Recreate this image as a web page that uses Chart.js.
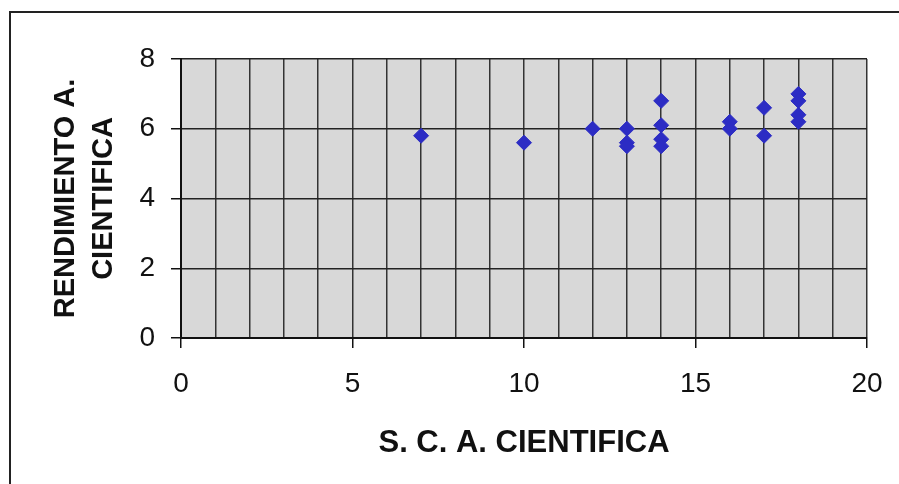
<!DOCTYPE html>
<html>
<head>
<meta charset="utf-8">
<script src="https://cdn.jsdelivr.net/npm/chart.js@4/dist/chart.umd.min.js"></script>
<style>
  body { margin: 0; background: #fff; }
  #wrap { position: relative; width: 899px; height: 484px; overflow: hidden; }
  #frame { position: absolute; left: 9px; top: 11px; width: 960px; height: 520px; border: 2px solid #222; }
  canvas { position: absolute; left: 0; top: 0; }
</style>
</head>
<body>
<div id="wrap">
  <div id="frame"></div>
  <canvas id="myChart" width="899" height="484"></canvas>
</div>
<script>
// S. C. A. CIENTIFICA vs RENDIMIENTO A. CIENTIFICA
const xValues = [7, 10, 12, 13, 13, 13, 14, 14, 14, 14, 16, 16, 17, 17, 18, 18, 18, 18];
const yValues = [5.8, 5.6, 6.0, 6.0, 5.6, 5.5, 6.8, 6.1, 5.7, 5.5, 6.2, 6.0, 6.6, 5.8, 7.0, 6.8, 6.4, 6.2];
const xTitle = 'S. C. A. CIENTIFICA';
const yTitle = ['RENDIMIENTO A.', 'CIENTIFICA'];

const points = xValues.map((x, i) => ({ x: x, y: yValues[i] }));

const plotBg = {
  id: 'plotBg',
  beforeDraw(chart) {
    const a = chart.chartArea;
    const ctx = chart.ctx;
    ctx.save();
    ctx.fillStyle = '#d8d8d8';
    ctx.fillRect(a.left, a.top, a.right - a.left, a.bottom - a.top);
    ctx.restore();
  }
};

const family = 'Liberation Sans, Arial, sans-serif';
const tickFont = { family: family, size: 28 };

new Chart(document.getElementById('myChart'), {
  type: 'scatter',
  data: {
    datasets: [{
      data: points,
      pointStyle: 'rectRot',
      pointRadius: 7.5,
      pointHoverRadius: 7.5,
      backgroundColor: '#2c2cc4',
      borderColor: '#2c2cc4',
      borderWidth: 1
    }]
  },
  options: {
    responsive: false,
    animation: false,
    layout: { padding: { left: 0, top: 59, right: 32, bottom: 0 } },
    plugins: { legend: { display: false }, tooltip: { enabled: false } },
    scales: {
      x: {
        type: 'linear',
        min: 0,
        max: 20,
        afterFit(s) { s.height = 146; s.paddingRight = 0; s.paddingLeft = 0; },
        ticks: {
          stepSize: 1,
          autoSkip: false,
          maxRotation: 0,
          padding: 19,
          color: '#111',
          font: tickFont,
          callback: v => (v % 5 === 0 ? v : '')
        },
        grid: {
          color: '#333',
          lineWidth: 1.5,
          tickLength: 10,
          tickColor: c => (c.tick && c.tick.value % 5 === 0 ? '#111' : 'rgba(0,0,0,0)')
        },
        border: { color: '#111', width: 2 },
        title: {
          display: true, text: xTitle, color: '#111',
          font: { family: family, size: 31, weight: 'bold', lineHeight: 1.2 },
          padding: { top: 0, bottom: 22 }
        }
      },
      y: {
        min: 0,
        max: 8,
        afterFit(s) { s.width = 181; },
        ticks: { stepSize: 2, padding: 16, color: '#111', font: tickFont },
        grid: { color: '#222', lineWidth: 1.5, tickLength: 10, tickColor: '#111' },
        border: { color: '#111', width: 2 },
        title: {
          display: true, text: yTitle, color: '#111',
          font: { family: family, size: 29, weight: 'bold', lineHeight: 1.3 },
          padding: { top: 47, bottom: 0 }
        }
      }
    }
  },
  plugins: [plotBg]
});
</script>
</body>
</html>
